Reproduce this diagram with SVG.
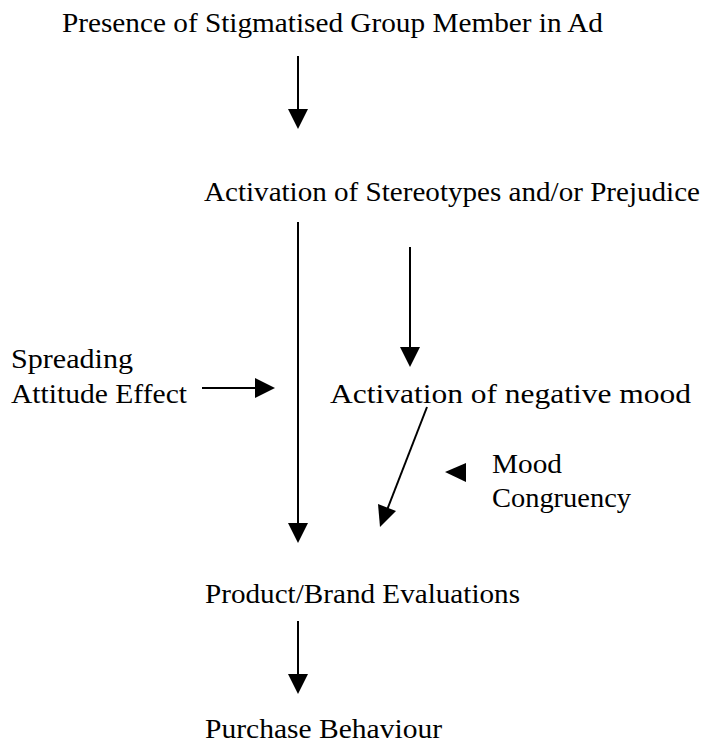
<svg xmlns="http://www.w3.org/2000/svg" width="704" height="745" viewBox="0 0 704 745">
<style>
text{font-family:"Liberation Serif","Times New Roman",serif;font-size:28px;fill:#000}
.c line{stroke:#000;stroke-width:2}
.c polygon{fill:#000}
</style>
<rect width="704" height="745" fill="#fff"/>
<g id="presence"><text x="62" y="32" textLength="541" lengthAdjust="spacingAndGlyphs">Presence of Stigmatised Group Member in Ad</text></g>
<g id="activation-stereotypes"><text x="204" y="201" textLength="496" lengthAdjust="spacingAndGlyphs">Activation of Stereotypes and/or Prejudice</text></g>
<g id="spreading"><text x="11" y="368" textLength="122" lengthAdjust="spacingAndGlyphs">Spreading</text><text x="11" y="403" textLength="176" lengthAdjust="spacingAndGlyphs">Attitude Effect</text></g>
<g id="negative-mood"><text x="330" y="403" textLength="361" lengthAdjust="spacingAndGlyphs">Activation of negative mood</text></g>
<g id="mood-congruency"><text x="492" y="473" textLength="70" lengthAdjust="spacingAndGlyphs">Mood</text><text x="492" y="507" textLength="139" lengthAdjust="spacingAndGlyphs">Congruency</text></g>
<g id="evaluations"><text x="205" y="603" textLength="315" lengthAdjust="spacingAndGlyphs">Product/Brand Evaluations</text></g>
<g id="purchase"><text x="205" y="738" textLength="237" lengthAdjust="spacingAndGlyphs">Purchase Behaviour</text></g>
<g class="c" id="connectors">
<line x1="298" y1="56" x2="298" y2="111"/><polygon points="288,109 308,109 298,129"/>
<line x1="298" y1="222" x2="298" y2="525"/><polygon points="288,523 308,523 298,543"/>
<line x1="410" y1="247" x2="410" y2="349"/><polygon points="400,347 420,347 410,367"/>
<line x1="202" y1="388" x2="257" y2="388"/><polygon points="255,378 255,398 275,388"/>
<line x1="427" y1="407" x2="387" y2="510"/><polygon points="378,504 396,511 380,527"/>
<polygon points="445,472 466,463 466,482"/>
<line x1="298" y1="621" x2="298" y2="676"/><polygon points="288,674 308,674 298,694"/>
</g>
</svg>
